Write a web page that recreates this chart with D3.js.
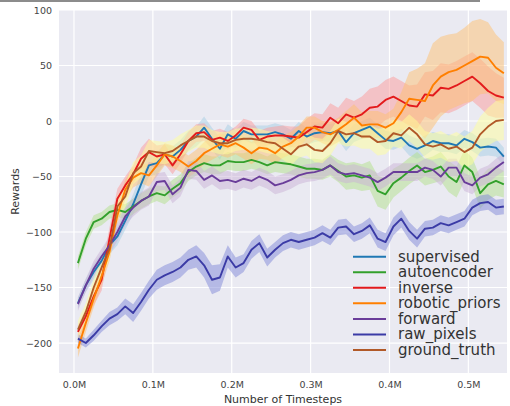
<!DOCTYPE html>
<html>
<head>
<meta charset="utf-8">
<script src="https://cdn.jsdelivr.net/npm/d3@7"></script>
<style>
  body { margin: 0; background: #fff; }
  text { font-family: "DejaVu Sans", sans-serif; }
</style>
</head>
<body>
<svg id="chart" width="510" height="406"></svg>
<script>
// Timesteps (thousands) at which the rolling mean reward was logged
const timesteps = [5,15,25,35,45,55,65,75,85,95,105,115,125,135,145,155,165,175,185,195,205,215,225,235,245,255,265,275,285,295,305,315,325,335,345,355,365,375,385,395,405,415,425,435,445,455,465,475,485,495,505,515,525,535,545];

const seriesNames = ["supervised","autoencoder","inverse","robotic_priors","forward","raw_pixels","ground_truth"];

// Mean reward per method
const supervised = [-164,-148,-136,-126,-112,-104,-90,-75,-57,-40,-38,-30,-32,-26,-18,-14,-6,-16,-25,-12,-16,-9,-12,-12,-12,-10,-12,-16,-9,-14,-11,-10,-11,-9,-19,-11,-8,-5,-11,-17,-18,-15,-22,-25,-22,-18,-20,-20,-22,-16,-19,-24,-23,-24,-32];
const autoencoder = [-128,-106,-91,-88,-82,-80,-82,-77,-72,-68,-65,-67,-61,-56,-46,-41,-38,-40,-40,-36,-37,-37,-35,-37,-40,-37,-38,-39,-41,-43,-43,-44,-40,-45,-50,-49,-51,-49,-63,-66,-56,-51,-45,-40,-46,-44,-41,-50,-55,-40,-46,-65,-57,-54,-57];
const inverse = [-190,-176,-158,-143,-106,-70,-58,-48,-34,-28,-32,-30,-40,-30,-18,-11,-10,-17,-15,-18,-13,-6,-8,-17,-14,-13,-13,-14,-15,-10,-5,-6,3,-2,6,3,6,12,13,19,22,18,14,13,24,23,30,29,32,36,40,34,27,23,21];
const roboticPriors = [-205,-182,-160,-140,-118,-85,-62,-51,-47,-49,-40,-30,-32,-36,-41,-36,-29,-25,-21,-23,-20,-24,-29,-24,-25,-29,-23,-20,-14,-6,-6,-10,-12,-8,-3,3,-4,-3,-3,-6,-2,8,20,19,18,32,40,44,46,50,54,58,57,48,43];
const forward = [-165,-148,-133,-122,-112,-100,-86,-78,-72,-68,-55,-54,-66,-60,-44,-45,-53,-49,-54,-53,-55,-52,-54,-50,-53,-58,-56,-53,-49,-47,-46,-44,-40,-46,-48,-47,-49,-51,-55,-51,-46,-46,-46,-46,-42,-44,-50,-42,-42,-55,-58,-51,-48,-42,-37];
const rawPixels = [-196,-200,-193,-185,-178,-174,-167,-173,-163,-152,-143,-139,-136,-132,-125,-122,-130,-143,-141,-122,-132,-128,-116,-110,-123,-116,-110,-107,-109,-107,-105,-101,-105,-96,-95,-102,-99,-94,-106,-109,-95,-88,-99,-106,-97,-96,-92,-94,-91,-88,-78,-74,-73,-78,-77];
const groundTruth = [-188,-172,-150,-132,-115,-77,-68,-47,-41,-27,-28,-29,-27,-22,-18,-14,-14,-18,-20,-20,-17,-16,-16,-17,-19,-20,-25,-30,-23,-21,-26,-27,-20,-9,-12,-11,-14,-14,-19,-18,-11,-13,-6,-12,-21,-23,-21,-25,-23,-28,-24,-12,-5,0,1];

// Spread (half-width of the shaded band) per method
const supervisedSpread = [5,6,7,7,8,8,8,9,10,10,10,9,9,9,9,9,10,10,10,9,8,8,8,8,8,8,8,8,8,8,8,8,8,8,8,8,8,8,8,8,8,8,9,9,9,8,8,8,8,8,8,8,8,8,8];
const autoencoderSpread = [6,6,6,6,6,6,7,7,7,7,7,8,8,8,8,8,8,8,8,8,8,8,8,8,8,9,9,9,9,9,9,9,10,10,12,12,12,13,14,14,13,12,12,12,12,12,13,14,14,14,13,14,14,13,12];
const inverseSpread = [6,7,8,10,10,9,8,8,10,12,10,9,8,8,8,8,8,8,8,8,8,8,8,8,8,8,9,9,10,12,12,12,13,14,15,15,16,17,18,18,18,18,18,20,20,22,22,22,22,22,22,22,22,20,18];
const roboticPriorsSpread = [8,8,8,8,8,8,9,9,9,10,10,10,10,10,10,10,10,10,10,10,10,10,10,10,10,10,10,10,10,10,10,10,11,11,12,12,12,12,12,12,13,18,24,28,34,38,36,34,33,34,36,34,32,30,28];
const forwardSpread = [6,6,7,7,8,8,8,8,8,8,8,8,8,8,8,8,8,8,8,8,8,8,8,8,8,8,8,8,8,8,8,8,8,8,8,8,8,8,8,8,8,8,8,8,8,8,8,8,8,8,8,8,8,8,8];
const rawPixelsSpread = [4,4,5,5,6,6,7,8,8,8,9,9,9,9,9,10,11,13,12,10,9,8,8,8,8,7,7,7,7,7,7,7,7,7,7,7,7,7,8,8,8,8,8,8,7,7,7,7,7,7,7,7,7,7,7];
const groundTruthSpread = [8,8,8,9,10,10,10,10,10,10,10,10,10,10,10,10,10,10,10,10,10,10,10,10,10,10,10,10,10,10,11,11,11,11,11,11,11,11,12,12,12,12,12,12,12,12,12,12,13,14,15,16,17,18,18];

const xTicks = [0, 100, 200, 300, 400, 500];
const yTicks = [-200, -150, -100, -50, 0, 50, 100];

const lineColors = ["#1f78b4","#33a02c","#e31a1c","#ff7f00","#6a3d9a","#3b3ba6","#b15928"];
const bandColors = ["#a6cee3","#b2df8a","#fb9a99","#fdbf6f","#cab2d6","#7f87d8","#ffff99"];

const means = [supervised, autoencoder, inverse, roboticPriors, forward, rawPixels, groundTruth];
const spreads = [supervisedSpread, autoencoderSpread, inverseSpread, roboticPriorsSpread, forwardSpread, rawPixelsSpread, groundTruthSpread];

const series = seriesNames.map((name, i) => ({
  name,
  line: lineColors[i],
  band: bandColors[i],
  points: timesteps.map((t, k) => ({ t, v: means[i][k], s: spreads[i][k] }))
}));

const svg = d3.select("#chart");
const plot = { left: 59, right: 507, top: 10, bottom: 373 };

const x = d3.scaleLinear().domain([-19, 549]).range([plot.left, plot.right]);
const y = d3.scaleLinear().domain([-227, 100]).range([plot.bottom, plot.top]);

// frame line along the top of the figure
svg.append("line")
  .attr("x1", 0).attr("x2", 480).attr("y1", 1).attr("y2", 1)
  .attr("stroke", "#8c8c8c").attr("stroke-width", 2);

// axes background
svg.append("rect")
  .attr("x", plot.left).attr("y", plot.top)
  .attr("width", plot.right - plot.left).attr("height", plot.bottom - plot.top)
  .attr("fill", "#eaeaf2");

svg.append("clipPath").attr("id", "plotclip")
  .append("rect")
  .attr("x", plot.left).attr("y", plot.top)
  .attr("width", plot.right - plot.left).attr("height", plot.bottom - plot.top);

// grid
const grid = svg.append("g");
grid.selectAll("line.gx").data(xTicks).join("line")
  .attr("x1", d => x(d)).attr("x2", d => x(d))
  .attr("y1", plot.top).attr("y2", plot.bottom)
  .attr("stroke", "#fff").attr("stroke-width", 1.2);
grid.selectAll("line.gy").data(yTicks).join("line")
  .attr("x1", plot.left).attr("x2", plot.right)
  .attr("y1", d => y(d)).attr("y2", d => y(d))
  .attr("stroke", "#fff").attr("stroke-width", 1.2);

// axes (tick labels only, no spines)
const fmtM = d => (d / 1000).toFixed(1) + "M";
const xAxis = svg.append("g")
  .attr("transform", `translate(0,${plot.bottom})`)
  .call(d3.axisBottom(x).tickValues(xTicks).tickFormat(fmtM).tickSize(0).tickPadding(8));
const yAxis = svg.append("g")
  .attr("transform", `translate(${plot.left},0)`)
  .call(d3.axisLeft(y).tickValues(yTicks).tickFormat(d3.format("d")).tickSize(0).tickPadding(7));
[xAxis, yAxis].forEach(a => {
  a.select(".domain").remove();
  a.selectAll("text")
    .attr("fill", "#444")
    .style("font-size", "9.5px")
    .style("font-family", "'DejaVu Sans', sans-serif");
});

// axis titles
svg.append("text")
  .attr("x", (plot.left + plot.right) / 2).attr("y", 403)
  .attr("text-anchor", "middle")
  .attr("fill", "#333").style("font-size", "11px")
  .text("Number of Timesteps");
svg.append("text")
  .attr("transform", `translate(19,${(plot.top + plot.bottom) / 2}) rotate(-90)`)
  .attr("text-anchor", "middle")
  .attr("fill", "#333").style("font-size", "11px")
  .text("Rewards");

// shaded bands, then mean lines
const body = svg.append("g").attr("clip-path", "url(#plotclip)");
const area = d3.area()
  .x(d => x(d.t))
  .y0(d => y(d.v - d.s))
  .y1(d => y(d.v + d.s));
const line = d3.line()
  .x(d => x(d.t))
  .y(d => y(d.v));

body.selectAll("path.band").data(series).join("path")
  .attr("class", "band")
  .attr("d", d => area(d.points))
  .attr("fill", d => d.band)
  .attr("fill-opacity", 0.5);

body.selectAll("path.mean").data(series).join("path")
  .attr("class", "mean")
  .attr("d", d => line(d.points))
  .attr("fill", "none")
  .attr("stroke", d => d.line)
  .attr("stroke-width", 1.9)
  .attr("stroke-linejoin", "round");

// legend
const legend = svg.append("g");
const rowY = i => 256.7 + i * 15.55;
const rows = legend.selectAll("g").data(series).join("g")
  .attr("transform", (d, i) => `translate(0,${rowY(i)})`);
rows.append("line")
  .attr("x1", 353).attr("x2", 386).attr("y1", 0).attr("y2", 0)
  .attr("stroke", d => d.line).attr("stroke-width", 2);
rows.append("text")
  .attr("x", 398).attr("y", 5)
  .attr("fill", "#333")
  .style("font-size", "15px")
  .text(d => d.name);
</script>
</body>
</html>
